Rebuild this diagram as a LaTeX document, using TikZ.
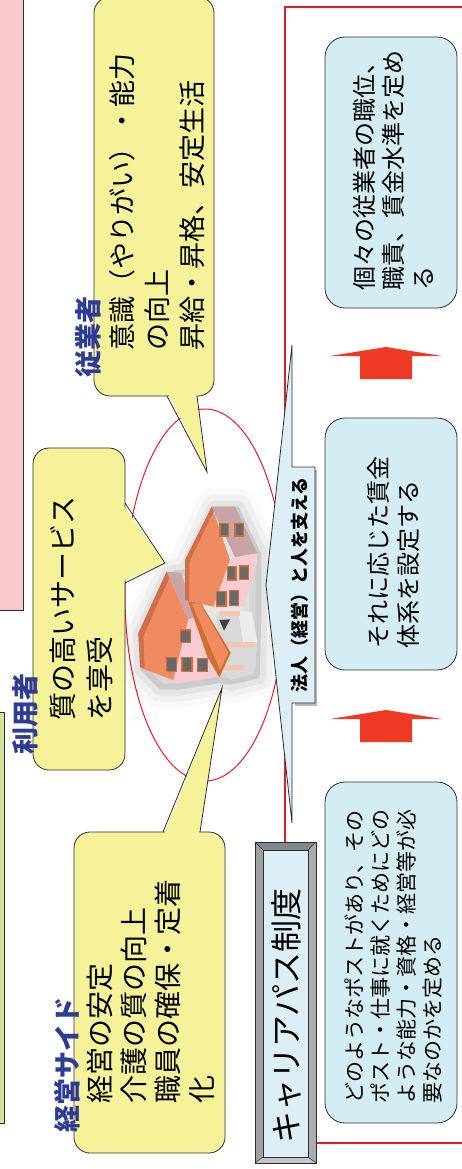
\documentclass[tikz,border=0pt]{standalone}
\usepackage{fontspec}
\setmainfont{Noto Sans CJK JP}
\usetikzlibrary{calc}
\definecolor{yellowbg}{RGB}{246,242,154}
\definecolor{bluebg}{RGB}{212,236,243}
\definecolor{bandbg}{RGB}{221,239,246}
\definecolor{edge}{RGB}{45,45,45}
\definecolor{framered}{RGB}{225,30,40}
\definecolor{arrowred}{RGB}{238,58,36}
\definecolor{tagblue}{RGB}{47,60,147}
\definecolor{pinkbg}{RGB}{248,200,203}
\definecolor{greenbg}{RGB}{213,227,155}
\definecolor{wallorange}{RGB}{240,138,96}
\definecolor{walldark}{RGB}{205,111,73}
\definecolor{wallmauve}{RGB}{200,164,166}
\definecolor{wallpink}{RGB}{246,204,210}
\definecolor{wingray}{RGB}{105,105,105}
\definecolor{winedge}{RGB}{210,110,50}
\tikzset{
  callout/.style={fill=yellowbg, draw=edge, line width=0.8pt},
  infobox/.style={fill=bluebg, draw=edge, line width=0.8pt, rounded corners=20pt,
                  minimum width=132pt, inner sep=0pt},
  vtext/.style={rotate=90, align=left, inner sep=0pt, anchor=west, text=black},
  tag/.style={rotate=90, inner sep=0pt, anchor=west, text=tagblue,
              font=\bfseries\fontsize{27}{30}\selectfont},
  win/.style={fill=wingray, draw=winedge, line width=1.5pt},
  redline/.style={draw=framered, line width=1.3pt},
}
\begin{document}
\begin{tikzpicture}[x=1pt,y=-1pt]
\useasboundingbox (0,0) rectangle (462,1169);

% side panels cut by the page edge
\draw[fill=pinkbg, draw=edge, line width=0.8pt] (-5,-5) rectangle (23,610);
\draw[fill=greenbg, draw=edge, line width=0.8pt] (-5,712) rectangle (4,1123);

% red frame around the career-path column
\draw[redline] (285,7) rectangle (480,1143);

% red ring around the facility
\draw[redline, line width=1pt] (205,595) ellipse [x radius=80pt, y radius=186pt];

% ---- facility building ----
\begin{scope}[shift={(120,460)}, scale=1/3]
  % soft shadow
  \foreach \w/\o in {36/0.025, 24/0.035, 12/0.05}{
    \fill[black, opacity=\o, draw=black, line width=\w, line join=round]
      (282,140) -- (356,140) -- (424,283) -- (424,466) -- (419,654) -- (336,674)
      -- (298,669) -- (178,689) -- (120,689) -- (62,631) -- (57,523) -- (145,337)
      -- (195,327) -- cycle;
  }
  % grey annex
  \fill[gray!30] (290,460) -- (395,455) -- (412,545) -- (405,640) -- (330,660) -- (300,600) -- cycle;
  \fill[gray!15] (355,455) -- (395,455) -- (412,545) -- (370,550) -- cycle;
  \fill[wallorange!50] (300,452) rectangle (360,468);
  \fill[wallorange!50] (320,545) rectangle (405,560);
  \fill[wallorange!50] (305,615) rectangle (372,630);
  \fill[black!75] (298,480) -- (330,478) -- (312,512) -- cycle;
  % lower block
  \fill[wallorange] (140,335) -- (205,478) -- (165,662) -- (65,625) -- (55,520) -- cycle;
  \fill[walldark] (140,335) -- (55,520) -- (60,622) -- (74,624) -- (70,528) -- (150,348) -- cycle;
  \fill[wallmauve] (140,335) -- (182,338) -- (234,470) -- (205,478) -- cycle;
  \fill[wallpink] (205,478) -- (234,470) -- (290,650) -- (170,668) -- (160,660) -- cycle;
  \fill[winedge] (205,425) -- (240,425) -- (332,578) -- (298,652) -- (262,590) -- cycle;
  \fill[wallorange] (215,430) -- (240,430) -- (325,578) -- (300,630) -- cycle;
  \filldraw[win] (182,510) rectangle (212,548);
  \filldraw[win] (140,592) rectangle (170,634);
  \filldraw[win] (186,592) rectangle (216,634);
  \filldraw[win] (232,595) rectangle (262,634);
  % upper block
  \fill[wallorange] (275,140) -- (330,300) -- (280,440) -- (195,420) -- (195,300) -- cycle;
  \fill[walldark] (275,140) -- (195,300) -- (195,420) -- (208,422) -- (208,305) -- (282,152) -- cycle;
  \fill[wallmauve] (275,140) -- (345,140) -- (412,280) -- (345,292) -- cycle;
  \fill[wallpink] (330,300) -- (345,292) -- (412,280) -- (412,305) -- (370,440) -- (280,442) -- cycle;
  \filldraw[win] (300,190) rectangle (325,228);
  \filldraw[win] (345,190) rectangle (370,228);
  \filldraw[win] (322,320) rectangle (348,360);
  \filldraw[win] (358,318) rectangle (386,358);
  \filldraw[win] (290,395) rectangle (318,438);
  \filldraw[win] (328,392) rectangle (356,436);
\end{scope}

% ---- speech bubbles ----
% staff
\draw[callout, rounded corners=16pt] (94,-3) rectangle (214,396);
\fill[yellowbg] (168,393) -- (196,393) -- (207,472) -- cycle;
\draw[edge, line width=0.8pt] (167,396) -- (207,472) -- (197,396);
% users
\draw[callout, rounded corners=16pt] (33,448) rectangle (125,770);
\fill[yellowbg] (122,504) -- (122,582) -- (165,563) -- cycle;
\draw[edge, line width=0.8pt] (125,503) -- (165,563) -- (125,583);
% management
\draw[callout, rounded corners=16pt] (74,832) rectangle (225,1153);
\fill[yellowbg] (164,835) -- (199,835) -- (222,688) -- cycle;
\draw[edge, line width=0.8pt] (163,832) -- (222,688) -- (200,832);

\node[vtext, font=\fontsize{27}{35}\selectfont] (staffTxt) at (157,351)
  {意識（やりがい）・能力\\の向上\\昇給・昇格、安定生活};
\node[vtext, font=\fontsize{28}{37}\selectfont] (userTxt) at (81,721)
  {質の高いサービス\\を享受};
\node[vtext, font=\fontsize{28}{34}\selectfont] (mgmtTxt) at (151,1104)
  {経営の安定\\介護の質の向上\\職員の確保・定着\\化};

\node[tag] (staffTag) at (88,378) {従業者};
\node[tag] (userTag) at (25,755) {利用者};
\node[tag] (mgmtTag) at (67,1133) {経営サイド};

% ---- supporting band ----
\fill[gray!55] (295,470) rectangle (317,706);
\draw[fill=bandbg, draw=edge, line width=0.8pt]
  (292,345) -- (292,467) -- (315,467) -- (315,703) -- (292,703) -- (292,823)
  -- (266,585) -- cycle;
\node[rotate=90, inner sep=0pt, font=\bfseries\fontsize{18}{20}\selectfont] (bandTxt)
  at (300,585) {法人（経営）と人を支える};

% ---- career path column ----
\node[infobox, minimum height=271pt] (goal) at (391,172.5) {};
\node[infobox, minimum height=252pt] (pay) at (391,544) {};
\node[infobox, minimum height=341pt] (post) at (391,952.5) {};

\node[vtext, font=\fontsize{24}{29.5}\selectfont] (goalTxt) at (393,291)
  {個々の従業者の職位、\\職責、賃金水準を定め\\る};
\node[vtext, font=\fontsize{24}{30}\selectfont] (payTxt) at (393,649)
  {それに応じた賃金\\体系を設定する};
\node[vtext, font=\fontsize{21}{26}\selectfont] (postTxt) at (393,1104)
  {どのようなポストがあり、その\\ポスト・仕事に就くためにどの\\ような能力・資格・経営等が必\\要なのかを定める};

% upward block arrows between the steps
\coordinate (m1) at ($(goal.south)!0.5!(pay.north)+(-5,0)$);
\coordinate (m2) at ($(pay.south)!0.5!(post.north)+(-5,0)$);
\foreach \m in {m1,m2}{
  \begin{scope}[shift={(\m)}]
    \fill[arrowred] (0,-16) -- (56,-7) -- (26,-7) -- (26,16) -- (-26,16) -- (-26,-7) -- (-56,-7) -- cycle;
  \end{scope}
}

% ---- career path title plate ----
\fill[black!55!cyan!20!gray] (255,842) -- (316,842) -- (308,850) -- (263,850) -- cycle;
\fill[gray!75] (255,842) -- (263,850) -- (263,1157) -- (255,1163) -- cycle;
\fill[gray!65] (316,842) -- (316,1163) -- (308,1157) -- (308,850) -- cycle;
\fill[gray!45] (255,1163) -- (263,1157) -- (308,1157) -- (316,1163) -- cycle;
\draw[fill=bandbg, draw=edge, line width=0.6pt] (263,850) rectangle (308,1157);
\draw[edge, line width=0.8pt] (255,842) rectangle (316,1163);
\draw[edge, line width=0.5pt] (255,842) -- (263,850) (316,842) -- (308,850)
  (255,1163) -- (263,1157) (316,1163) -- (308,1157);
\node[rotate=90, inner sep=0pt, font=\fontsize{32}{34}\selectfont] (titleTxt)
  at (286,1016) {キャリアパス制度};

\end{tikzpicture}
\end{document}
